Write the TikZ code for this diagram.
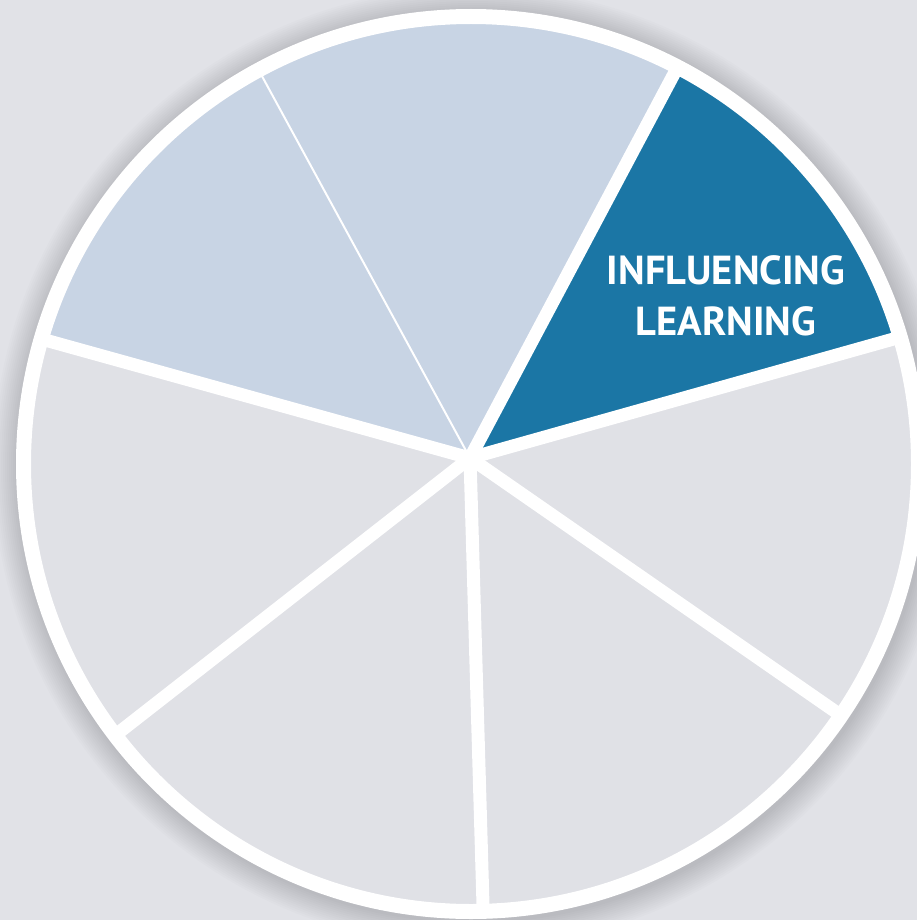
\documentclass[tikz,border=0pt]{standalone}
\usepackage{fontspec}
\setmainfont{PT Sans}
\usetikzlibrary{calc}
\definecolor{bgc}{RGB}{225,226,231}
\definecolor{slicegray}{RGB}{224,225,230}
\definecolor{lightblue}{RGB}{200,212,228}
\definecolor{darkblue}{RGB}{27,118,165}
\tikzset{
  spoke/.style={draw=white, line width=13pt},
  thinspoke/.style={draw=white, line width=2pt},
  ring/.style={draw=white, line width=15pt},
  label/.style={text=white, font=\bfseries\fontsize{40.5}{51}\selectfont, align=center}
}
\begin{document}
\begin{tikzpicture}[x=1pt,y=-1pt]
\useasboundingbox (0,0) rectangle (917,920);
\fill[bgc] (0,0) rectangle (917,920);
% shadow
\foreach \r in {480,478,...,456}{
  \fill[black, opacity=0.011] (473,467) circle (\r);
}
\coordinate (O) at (471,464);
\coordinate (C) at (470,458);
\coordinate (E1) at (675,72);
\coordinate (E2) at (890,340);
\coordinate (E3) at (836,712);
\coordinate (E4) at (483,905);
\coordinate (E5) at (122,730);
\coordinate (E6) at (45,340);
\coordinate (E7) at (263,78);
\fill[slicegray] (O) circle (448);
\begin{scope}
  \clip (O) circle (448);
  \fill[lightblue] (C) -- ($(C)!2!(E6)$) -- ($(C)!2!(E7)$) -- cycle;
  \fill[lightblue] (C) -- ($(C)!2!(E7)$) -- ($(C)!2!(E1)$) -- cycle;
  \fill[darkblue] (C) -- ($(C)!2!(E1)$) -- ($(C)!2!(E2)$) -- cycle;
  \foreach \e in {E1,E2,E3,E4,E5,E6}{
    \path[spoke] (C) -- ($(C)!1.1!(\e)$);
  }
  \path[thinspoke] (C) -- ($(C)!1.1!(E7)$);
\end{scope}
\path[ring] (O) circle (447.5);
\node[label] (t) at (726,296) {INFLUENCING\\LEARNING};
\end{tikzpicture}
\end{document}
